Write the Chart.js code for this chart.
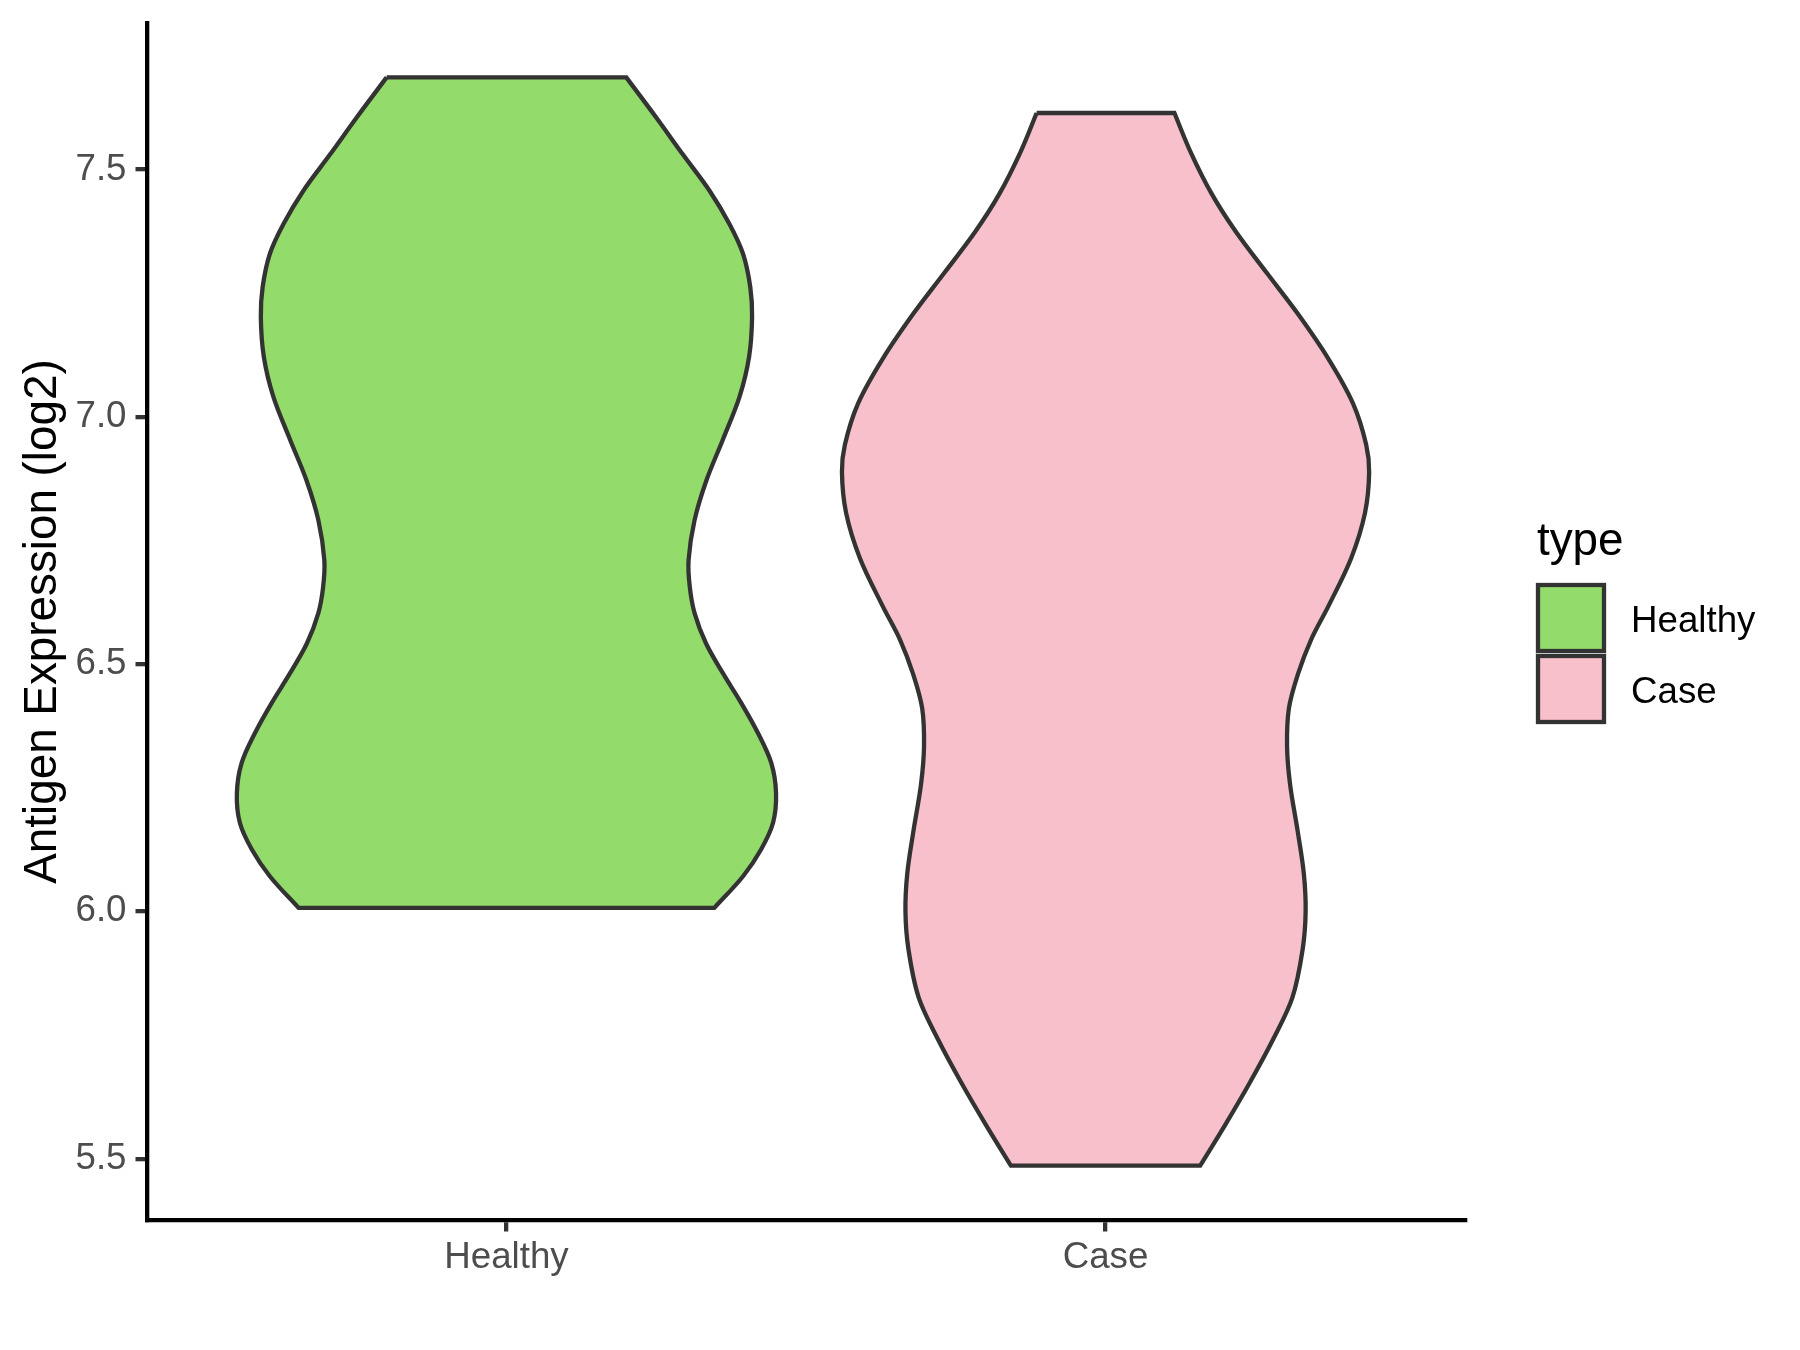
<!DOCTYPE html>
<html>
<head>
<meta charset="utf-8">
<script src="https://cdn.jsdelivr.net/npm/chart.js@4.4.1/dist/chart.umd.min.js"></script>
<style>
  html, body { margin: 0; padding: 0; background: #fff; }
  #wrap { width: 1800px; height: 1350px; }
</style>
</head>
<body>
<div id="wrap"><canvas id="violin" width="1800" height="1350"></canvas></div>
<script>
const categories = ["Healthy", "Case"];
const fillColors = ["#93DB6A", "#F7C0CB"];
const legendTitle = "type";
const yTitle = "Antigen Expression (log2)";
const yTicks = [5.5, 6.0, 6.5, 7.0, 7.5];

// violin outlines: level (log2) and half-width (category units), top to bottom
const healthyLevels = [7.686, 7.605, 7.531, 7.457, 7.390, 7.329, 7.262, 7.201, 7.121, 7.040, 6.953, 6.872,
  6.791, 6.710, 6.656, 6.603, 6.542, 6.482, 6.421, 6.360, 6.300, 6.239, 6.179, 6.125, 6.071, 6.007];
const healthyHalfWidth = [0.200, 0.250, 0.294, 0.339, 0.372, 0.395, 0.407, 0.410, 0.405, 0.389, 0.361, 0.334,
  0.314, 0.304, 0.306, 0.314, 0.333, 0.361, 0.392, 0.420, 0.442, 0.450, 0.445, 0.425, 0.395, 0.347];

const caseLevels = [7.614, 7.535, 7.451, 7.375, 7.291, 7.208, 7.117, 7.027, 6.944, 6.888, 6.805, 6.714, 6.617,
  6.549, 6.479, 6.410, 6.333, 6.257, 6.160, 6.076, 6.000, 5.923, 5.826, 5.742, 5.652, 5.569, 5.486];
const caseHalfWidth = [0.115, 0.142, 0.177, 0.217, 0.269, 0.321, 0.372, 0.413, 0.435, 0.440, 0.433, 0.410, 0.372,
  0.343, 0.321, 0.306, 0.303, 0.308, 0.321, 0.331, 0.334, 0.329, 0.312, 0.280, 0.240, 0.200, 0.158];

const levels = [healthyLevels, caseLevels];
const halfWidths = [healthyHalfWidth, caseHalfWidth];

const FONT = "'Liberation Sans', Arial, Helvetica, sans-serif";
Chart.defaults.font.family = FONT;

// y range like ggplot: data range plus 5% each side
const allLevels = healthyLevels.concat(caseLevels);
const yLo = Math.min(...allLevels);
const yHi = Math.max(...allLevels);
const yPad = (yHi - yLo) * 0.05;

function outline(center, lv, hw) {
  const left = lv.map((y, i) => ({ x: center - hw[i], y }));
  const right = lv.map((y, i) => ({ x: center + hw[i], y })).reverse();
  const n = left.length;
  // corners doubled so the spline keeps the flat ends straight
  return [...left, left[n - 1], right[0], ...right, right[n - 1], left[0]];
}

function noScalePadding(axis) {
  axis.paddingTop = 0;
  axis.paddingBottom = 0;
  axis.paddingLeft = 0;
  axis.paddingRight = 0;
}

const typeLegend = {
  id: "typeLegend",
  afterDraw(chart) {
    const { ctx, chartArea } = chart;
    const x0 = chartArea.right + 73;
    ctx.save();
    ctx.fillStyle = "#000";
    ctx.textAlign = "left";
    ctx.textBaseline = "alphabetic";
    ctx.font = `45.8px ${FONT}`;
    ctx.fillText(legendTitle, x0 - 1, 555);
    ctx.font = `36.7px ${FONT}`;
    ctx.textBaseline = "middle";
    chart.data.datasets.forEach((ds, i) => {
      const top = 585 + i * 71;
      ctx.fillStyle = ds.backgroundColor;
      ctx.fillRect(x0, top, 66, 66);
      ctx.lineWidth = ds.borderWidth;
      ctx.strokeStyle = ds.borderColor;
      ctx.strokeRect(x0, top, 66, 66);
      ctx.fillStyle = "#000";
      ctx.fillText(ds.label, x0 + 93, top + 36.5);
    });
    ctx.restore();
  },
};

new Chart(document.getElementById("violin"), {
  type: "scatter",
  data: {
    datasets: categories.map((name, i) => ({
      label: name,
      data: outline(i + 1, levels[i], halfWidths[i]),
      showLine: true,
      fill: "shape",
      tension: 0.34,
      pointRadius: 0,
      pointHoverRadius: 0,
      borderColor: "#333333",
      borderWidth: 4.3,
      borderJoinStyle: "miter",
      backgroundColor: fillColors[i],
    })),
  },
  options: {
    responsive: false,
    animation: false,
    devicePixelRatio: 1,
    layout: { padding: { top: 23, right: 335, bottom: 0, left: 0 } },
    plugins: {
      legend: { display: false },
      tooltip: { enabled: false },
    },
    scales: {
      x: {
        type: "linear",
        min: 0.4,
        max: 2.6,
        afterBuildTicks: (axis) => { axis.ticks = categories.map((_, i) => ({ value: i + 1 })); },
        afterFit: (axis) => { axis.height = 130; noScalePadding(axis); },
        ticks: {
          callback: (v) => categories[Math.round(v) - 1],
          color: "#4D4D4D",
          font: { size: 36.7 },
          padding: 4.5,
          maxRotation: 0,
          autoSkip: false,
        },
        grid: { drawOnChartArea: false, drawTicks: true, tickLength: 11.5, lineWidth: 4.3, color: "#333333", tickColor: "#333333" },
        border: { display: true, color: "#000000", width: 4.3 },
      },
      y: {
        type: "linear",
        min: yLo - yPad,
        max: yHi + yPad,
        afterBuildTicks: (axis) => { axis.ticks = yTicks.map((v) => ({ value: v })); },
        afterFit: (axis) => { axis.width = 147; noScalePadding(axis); },
        ticks: {
          callback: (v) => v.toFixed(1),
          color: "#4D4D4D",
          font: { size: 36.7 },
          padding: 9,
        },
        grid: { drawOnChartArea: false, drawTicks: true, tickLength: 11.5, lineWidth: 4.3, color: "#333333", tickColor: "#333333" },
        border: { display: true, color: "#000000", width: 4.3 },
        title: {
          display: true,
          text: yTitle,
          color: "#000000",
          font: { size: 45.8 },
          padding: { top: 15.5, bottom: 0 },
        },
      },
    },
  },
  plugins: [typeLegend],
});
</script>
</body>
</html>
